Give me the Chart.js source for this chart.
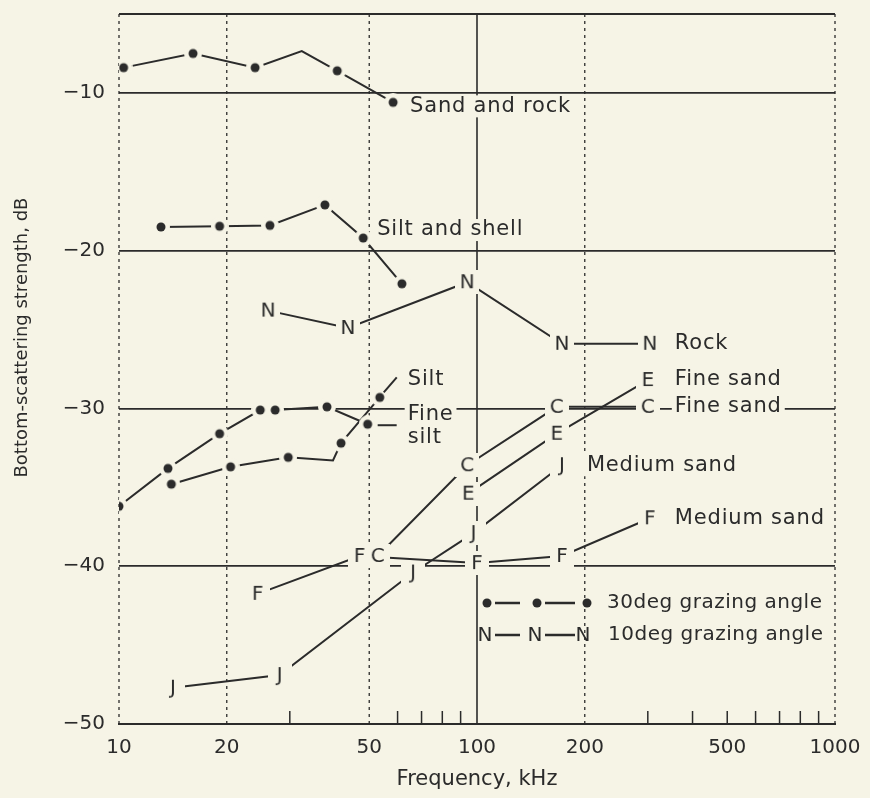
<!DOCTYPE html>
<html>
<head>
<meta charset="utf-8">
<script src="https://cdn.jsdelivr.net/npm/chart.js@4"></script>
<style>
  html, body { margin: 0; padding: 0; background: #f6f4e6; }
  #wrap { width: 870px; height: 798px; position: relative; }
</style>
</head>
<body>
<div id="wrap"><canvas id="chartScatter"></canvas></div>
<script>
// frequencies in kHz, scattering strength in dB
var sandRockX = [10.3, 16.1, 24.0, 32.4, 40.7, 58.3];
var sandRockY = [-8.4, -7.5, -8.4, -7.35, -8.6, -10.6];
var siltShellX = [13.1, 19.1, 26.4, 37.6, 48.1, 61.7];
var siltShellY = [-18.5, -18.45, -18.4, -17.1, -19.2, -22.1];
var fineSiltX = [10, 13.7, 19.1, 24.8, 27.3, 38.1, 49.5];
var fineSiltY = [-36.2, -33.8, -31.6, -30.1, -30.1, -29.9, -31.0];
var siltX = [14.0, 20.5, 29.7, 39.6, 41.7, 53.5];
var siltY = [-34.8, -33.7, -33.1, -33.3, -32.2, -29.3];

var rockX = [26.1, 43.6, 93.9, 172.7, 304];
var rockY = [-23.8, -24.9, -22.0, -25.9, -25.9];
var fineSandEX = [94.5, 167, 300];
var fineSandEY = [-35.4, -31.6, -28.2];
var fineSandCX = [52.8, 93.9, 167, 300];
var fineSandCY = [-39.35, -33.6, -29.9, -29.9];
var medSandJX = [14.15, 28.1, 66.3, 97.8, 172.7];
var medSandJY = [-47.7, -46.9, -40.4, -37.9, -33.6];
var medSandFX = [24.4, 47.0, 100, 172.7, 304];
var medSandFY = [-41.75, -39.35, -39.8, -39.35, -36.96];

var xTicks = [10, 20, 50, 100, 200, 500, 1000];
var xMinor = [30, 60, 70, 80, 90, 300, 400, 500, 600, 700, 800, 900];
var yTicks = [-50, -40, -30, -20, -10];

var BG = '#f6f4e6';
var INK = '#2b2b2b';
var FONT = '"DejaVu Sans", sans-serif';

function pts(xs, ys) {
    return xs.map(function(x, i) { return { x: x, y: ys[i] }; });
}

function letterMarker(ch) {
    var c = document.createElement('canvas');
    c.width = 24; c.height = 24;
    var g = c.getContext('2d');
    g.fillStyle = BG;
    g.fillRect(0, 0, 24, 24);
    g.fillStyle = INK;
    g.font = '20px ' + FONT;
    g.textAlign = 'center';
    g.textBaseline = 'middle';
    g.fillText(ch, 12, 13);
    return c;
}

function dotMarker() {
    var c = document.createElement('canvas');
    c.width = 18; c.height = 18;
    var g = c.getContext('2d');
    g.fillStyle = BG;
    g.beginPath(); g.arc(9, 9, 9, 0, Math.PI * 2); g.fill();
    g.fillStyle = INK;
    g.beginPath(); g.arc(9, 9, 4.5, 0, Math.PI * 2); g.fill();
    return c;
}

var DOT = dotMarker();

function dotSet(xs, ys, extra) {
    var ds = {
        data: pts(xs, ys),
        borderColor: INK,
        borderWidth: 2,
        pointStyle: DOT,
        pointRadius: 9,
        tension: 0
    };
    return Object.assign(ds, extra);
}

function letterSet(ch, xs, ys, extra) {
    var ds = {
        data: pts(xs, ys),
        borderColor: INK,
        borderWidth: 2,
        pointStyle: letterMarker(ch),
        pointRadius: 12,
        tension: 0
    };
    return Object.assign(ds, extra);
}

var seriesLabels = {
    id: 'seriesLabels',
    afterDatasetsDraw: function(chart) {
        var ctx = chart.ctx;
        ctx.save();
        ctx.font = '21px ' + FONT;
        ctx.letterSpacing = '0.8px';
        ctx.textBaseline = 'middle';
        chart.data.datasets.forEach(function(ds, i) {
            if (!ds.tag) return;
            var meta = chart.getDatasetMeta(i);
            var idx = ds.tag.at != null ? ds.tag.at : meta.data.length - 1;
            var p = meta.data[idx];
            if (ds.tag.leader) {
                var l = ds.tag.leader;
                ctx.strokeStyle = INK; ctx.lineWidth = 2;
                ctx.beginPath();
                ctx.moveTo(p.x + l[0], p.y + l[1]);
                ctx.lineTo(p.x + l[2], p.y + l[3]);
                ctx.stroke();
            }
            ds.tag.lines.forEach(function(t) {
                var tx = p.x + t[1], ty = p.y + t[2];
                var w = ctx.measureText(t[0]).width;
                ctx.fillStyle = BG;
                ctx.fillRect(tx - 3, ty - 11, w + 6, 22);
                ctx.fillStyle = INK;
                ctx.fillText(t[0], tx, ty);
            });
        });
        ctx.restore();
    }
};

var frame = {
    id: 'frame',
    beforeDatasetsDraw: function(chart) {
        var ctx = chart.ctx, a = chart.chartArea;
        var xs = chart.scales.x;
        ctx.save();
        ctx.strokeStyle = INK;
        // vertical grid
        [20, 50, 200, 1000, 10].forEach(function(v) {
            var px = xs.getPixelForValue(v);
            ctx.lineWidth = 1.3;
            ctx.setLineDash([3, 4]);
            ctx.beginPath(); ctx.moveTo(px, a.top); ctx.lineTo(px, a.bottom); ctx.stroke();
        });
        var p100 = xs.getPixelForValue(100);
        ctx.setLineDash([]);
        ctx.lineWidth = 1.6;
        ctx.beginPath(); ctx.moveTo(p100, a.top); ctx.lineTo(p100, a.bottom); ctx.stroke();
        // top border
        ctx.lineWidth = 2;
        ctx.beginPath(); ctx.moveTo(a.left, a.top); ctx.lineTo(a.right, a.top); ctx.stroke();
        // minor ticks
        ctx.lineWidth = 1.5;
        xMinor.forEach(function(v) {
            var px = xs.getPixelForValue(v);
            ctx.beginPath(); ctx.moveTo(px, a.bottom); ctx.lineTo(px, a.bottom - 13); ctx.stroke();
        });
        ctx.restore();
    },
    afterDraw: function(chart) {
        // legend box in lower right
        var ctx = chart.ctx, a = chart.chartArea;
        var x0 = a.left + 368, y1 = 603, y2 = 635;
        ctx.save();
        ctx.strokeStyle = INK;
        ctx.lineWidth = 2.5;
        [[x0 + 8, x0 + 33], [x0 + 58, x0 + 88]].forEach(function(s) {
            ctx.beginPath(); ctx.moveTo(s[0], y1); ctx.lineTo(s[1], y1); ctx.stroke();
            ctx.beginPath(); ctx.moveTo(s[0], y2); ctx.lineTo(s[1], y2); ctx.stroke();
        });
        ctx.fillStyle = INK;
        [x0, x0 + 50, x0 + 100].forEach(function(px) {
            ctx.beginPath(); ctx.arc(px, y1, 4.5, 0, Math.PI * 2); ctx.fill();
        });
        ctx.font = '20px ' + FONT;
        ctx.textAlign = 'center';
        ctx.textBaseline = 'middle';
        [x0 - 2, x0 + 48, x0 + 96].forEach(function(px) {
            ctx.fillText('N', px, y2 + 1);
        });
        ctx.textAlign = 'left';
        ctx.letterSpacing = '0.5px';
        ctx.fillText('30deg grazing angle', x0 + 120, y1);
        ctx.fillText('10deg grazing angle', x0 + 121, y2);
        ctx.restore();
    }
};

document.addEventListener('DOMContentLoaded', function() {
    var ctx = document.getElementById('chartScatter').getContext('2d');
    new Chart(ctx, {
        type: 'line',
        data: {
            datasets: [
                dotSet(sandRockX, sandRockY, {
                    pointStyle: [DOT, DOT, DOT, false, DOT, DOT],
                    tag: { lines: [['Sand and rock', 17, 4]] }
                }),
                dotSet(siltShellX, siltShellY, {
                    tag: { at: 4, lines: [['Silt and shell', 14, -8]] }
                }),
                dotSet(fineSiltX, fineSiltY, {
                    tag: { leader: [10, 1, 29, 1], lines: [['Fine', 40, -10], ['silt', 40, 13]] }
                }),
                dotSet(siltX, siltY, {
                    pointStyle: [DOT, DOT, DOT, false, DOT, DOT],
                    tag: { leader: [4, -5, 17, -20], lines: [['Silt', 28, -18]] }
                }),
                letterSet('N', rockX, rockY, { tag: { lines: [['Rock', 25, 0]] } }),
                letterSet('C', fineSandCX, fineSandCY, { tag: { lines: [['Fine sand', 27, 0]] } }),
                letterSet('E', fineSandEX, fineSandEY, { tag: { lines: [['Fine sand', 27, 0]] } }),
                letterSet('J', medSandJX, medSandJY, { tag: { lines: [['Medium sand', 25, 0]] } }),
                letterSet('F', medSandFX, medSandFY, { tag: { lines: [['Medium sand', 25, 0]] } })
            ]
        },
        options: {
            responsive: true,
            maintainAspectRatio: false,
            animation: false,
            layout: { padding: { top: 7, right: 35, left: 0, bottom: 0 } },
            plugins: {
                legend: { display: false },
                tooltip: { enabled: false }
            },
            scales: {
                x: {
                    type: 'logarithmic',
                    min: 10,
                    max: 1000,
                    afterBuildTicks: function(s) { s.ticks = xTicks.map(function(v) { return { value: v }; }); },
                    afterFit: function(s) { s.height = 74; s.paddingLeft = 0; s.paddingRight = 0; },
                    ticks: {
                        callback: function(v) { return String(v); },
                        autoSkip: false,
                        maxRotation: 0,
                        padding: 12,
                        color: INK,
                        font: { family: FONT, size: 20 }
                    },
                    grid: { drawOnChartArea: false, drawTicks: false },
                    border: { display: true, color: INK, width: 2 },
                    title: {
                        display: true,
                        text: 'Frequency, kHz',
                        color: INK,
                        font: { family: FONT, size: 21 },
                        padding: { top: 0, bottom: 6 }
                    }
                },
                y: {
                    min: -50,
                    max: -5,
                    afterBuildTicks: function(s) { s.ticks = yTicks.map(function(v) { return { value: v }; }); },
                    afterFit: function(s) { s.width = 119; s.paddingTop = 0; s.paddingBottom = 0; },
                    ticks: {
                        callback: function(v) { return '\u2212' + Math.abs(v); },
                        padding: 14,
                        color: INK,
                        font: { family: FONT, size: 20 }
                    },
                    grid: {
                        color: function(c) { return c.tick && c.tick.value === -50 ? 'rgba(0,0,0,0)' : INK; },
                        lineWidth: 1.8,
                        drawTicks: false
                    },
                    border: { display: false },
                    title: {
                        display: true,
                        text: '           Bottom-scattering strength, dB',
                        color: INK,
                        font: { family: FONT, size: 18 },
                        padding: { top: 12, bottom: 0 }
                    }
                }
            }
        },
        plugins: [frame, seriesLabels]
    });
});
</script>
</body>
</html>
